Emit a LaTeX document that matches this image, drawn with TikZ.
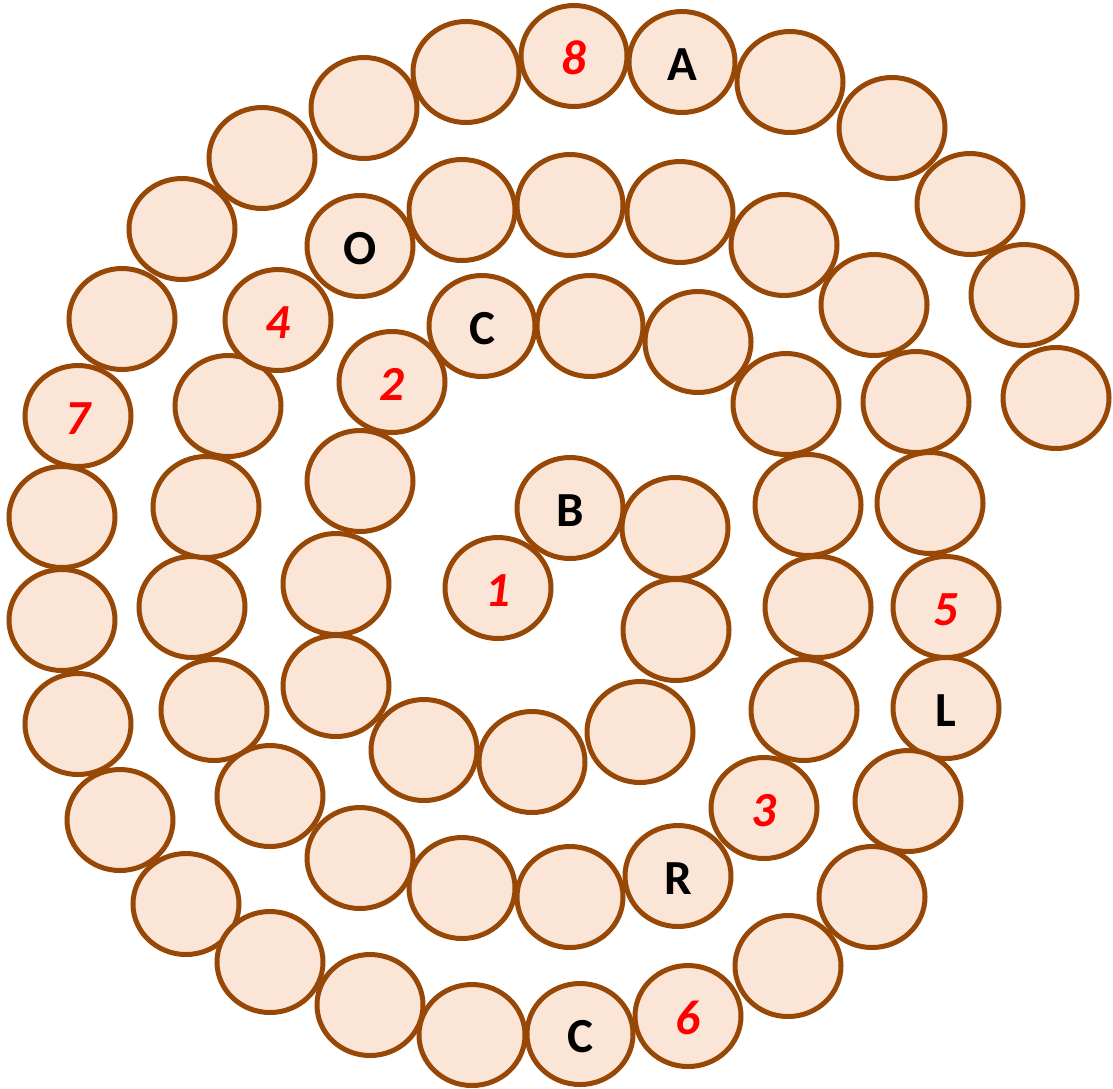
\documentclass[tikz,border=0pt]{standalone}
\usepackage{fontspec}
\setmainfont{Carlito}
\usetikzlibrary{shapes.geometric}
\definecolor{ballfill}{HTML}{FBE5D6}
\definecolor{balledge}{HTML}{974806}
\tikzset{
  ball/.style={ellipse, draw=balledge, fill=ballfill, line width=5pt,
    minimum width=106pt, minimum height=101pt, inner sep=0pt,
    text height=37pt, text depth=0pt,
    font=\fontsize{49}{49}\selectfont\bfseries},
  letter/.style={ball, text=black},
  num/.style={ball, text=red, font=\fontsize{49}{49}\selectfont\bfseries\itshape}
}
\begin{document}
\begin{tikzpicture}[x=1pt,y=-1pt]
\useasboundingbox (0,0) rectangle (1113,1088);
\node[num] (c1) at (498,588) {1};
\node[letter] (c2) at (570,508) {B};
\node[ball] (c3) at (675,528) {};
\node[ball] (c4) at (676,630) {};
\node[ball] (c5) at (640,732) {};
\node[ball] (c6) at (532,762) {};
\node[ball] (c7) at (424,750) {};
\node[ball] (c8) at (336,686) {};
\node[ball] (c9) at (336,584) {};
\node[ball] (c10) at (360,481) {};
\node[num] (c11) at (392,382) {2};
\node[letter] (c12) at (482,326) {C};
\node[ball] (c13) at (590,326) {};
\node[ball] (c14) at (698,342) {};
\node[ball] (c15) at (786,404) {};
\node[ball] (c16) at (808,505) {};
\node[ball] (c17) at (818,607) {};
\node[ball] (c18) at (804,710) {};
\node[num] (c19) at (764,808) {3};
\node[letter] (c20) at (678,876) {R};
\node[ball] (c21) at (570,897) {};
\node[ball] (c22) at (462,888) {};
\node[ball] (c23) at (360,858) {};
\node[ball] (c24) at (270,796) {};
\node[ball] (c25) at (214,710) {};
\node[ball] (c26) at (192,607) {};
\node[ball] (c27) at (206,507) {};
\node[ball] (c28) at (228,406) {};
\node[num] (c29) at (278,320) {4};
\node[letter] (c30) at (360,246) {O};
\node[ball] (c31) at (462,210) {};
\node[ball] (c32) at (570,205) {};
\node[ball] (c33) at (680,212) {};
\node[ball] (c34) at (784,245) {};
\node[ball] (c35) at (874,305) {};
\node[ball] (c36) at (916,402) {};
\node[ball] (c37) at (930,503) {};
\node[num] (c38) at (946,607) {5};
\node[letter] (c39) at (946,708) {L};
\node[ball] (c40) at (908,801) {};
\node[ball] (c41) at (872,897) {};
\node[ball] (c42) at (788,966) {};
\node[num] (c43) at (688,1016) {6};
\node[letter] (c44) at (580,1034) {C};
\node[ball] (c45) at (472,1035) {};
\node[ball] (c46) at (370,1005) {};
\node[ball] (c48) at (186,904) {};
\node[ball] (c47) at (270,962) {};
\node[ball] (c49) at (120,820) {};
\node[ball] (c50) at (78,724) {};
\node[ball] (c51) at (62,620) {};
\node[ball] (c52) at (62,517) {};
\node[num] (c53) at (78,416) {7};
\node[ball] (c54) at (122,319) {};
\node[ball] (c55) at (182,229) {};
\node[ball] (c56) at (262,158) {};
\node[ball] (c57) at (364,108) {};
\node[ball] (c58) at (466,72) {};
\node[num] (c59) at (574,56) {8};
\node[letter] (c60) at (682,62) {A};
\node[ball] (c61) at (790,82) {};
\node[ball] (c62) at (892,128) {};
\node[ball] (c63) at (970,204) {};
\node[ball] (c64) at (1024,295) {};
\node[ball] (c65) at (1056,398) {};
\end{tikzpicture}
\end{document}
